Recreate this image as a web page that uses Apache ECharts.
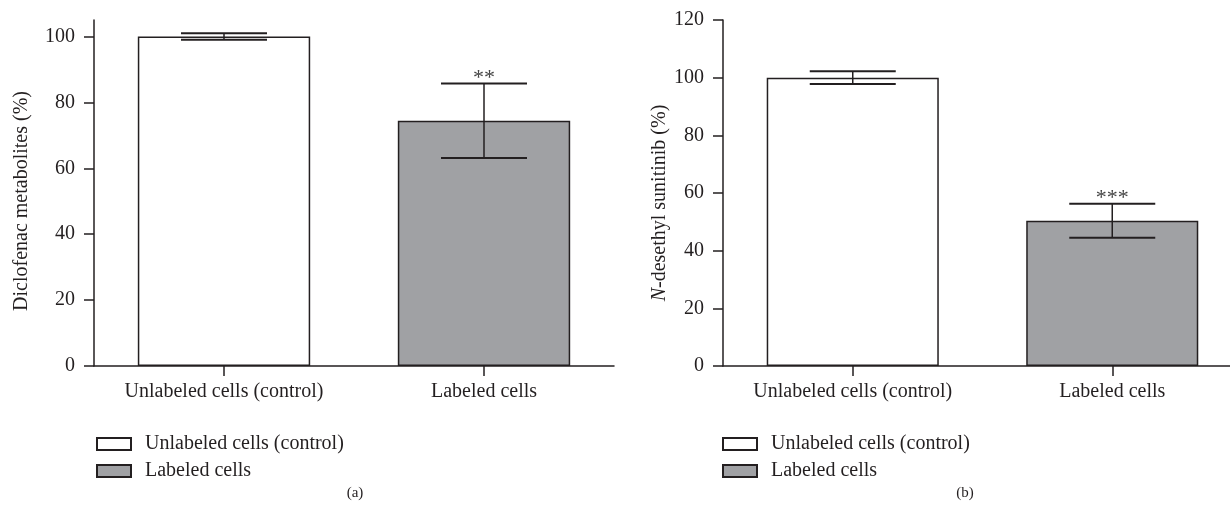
<!DOCTYPE html>
<html><head><meta charset="utf-8">
<script src="https://cdn.jsdelivr.net/npm/echarts@6/dist/echarts.min.js"></script>
<style>html,body{margin:0;padding:0;background:#fff}#c{width:1230px;height:514px}</style>
</head><body><div id="c"></div>
<script>
const categories = ['Unlabeled cells (control)', 'Labeled cells'];
const seriesNames = ['Unlabeled cells (control)', 'Labeled cells'];
const diclofenacMean = [100, 74.4];
const diclofenacErr = [1.0, 11.3];
const diclofenacSig = ['', '**'];
const sunitinibMean = [100, 50.4];
const sunitinibErr = [2.2, 5.9];
const sunitinibSig = ['', '***'];
const yTicksA = [0, 20, 40, 60, 80, 100];
const yTicksB = [0, 20, 40, 60, 80, 100, 120];
const panelLabels = ['(a)', '(b)'];

const INK = '#231f20';
const FONT = 'Liberation Serif';
const FS = 20;
const fills = ['#ffffff', '#a0a1a4'];

function yAxis(idx, max, ticks, name, shift) {
  return {
    type: 'value', gridIndex: idx, min: 0, max: max,
    name: name, nameLocation: 'middle', nameGap: idx === 0 ? 62 : 51, nameRotate: 90,
    nameTextStyle: { color: INK, fontFamily: FONT, fontSize: FS, padding: [0, shift, 0, 0],
      rich: { i: { fontStyle: 'italic', fontFamily: FONT, fontSize: FS, color: INK } } },
    axisLine: { show: true, lineStyle: { color: INK, width: 1.5 } },
    axisTick: { show: true, length: 10, inside: false, customValues: ticks, lineStyle: { color: INK, width: 1.5 } },
    axisLabel: { customValues: ticks, margin: 19, color: INK, fontFamily: FONT, fontSize: FS },
    splitLine: { show: false }
  };
}
function xAxis(idx) {
  return {
    type: 'category', gridIndex: idx, data: categories,
    axisLine: { show: true, lineStyle: { color: INK, width: 1.5 } },
    axisTick: { show: true, alignWithLabel: true, length: 10, lineStyle: { color: INK, width: 1.5 } },
    axisLabel: { margin: 16, color: INK, fontFamily: FONT, fontSize: FS }
  };
}
function barSeries(idx, means) {
  return seriesNames.map((nm, k) => ({
    type: 'bar', name: nm, xAxisIndex: idx, yAxisIndex: idx,
    barWidth: '66.3%', barGap: '-100%',
    itemStyle: { color: fills[k], borderColor: INK, borderWidth: 1.5 },
    data: means.map((v, i) => (i === k ? v : null)),
    z: 2
  }));
}
function errSeries(idx, means, errs, sigs) {
  return {
    type: 'custom', xAxisIndex: idx, yAxisIndex: idx, z: 5,
    data: means.map((m, i) => [i, m, errs[i]]),
    renderItem: function (params, api) {
      const x = api.value(0), m = api.value(1), e = api.value(2);
      const top = api.coord([x, m + e]);
      const bot = api.coord([x, m - e]);
      const hw = 43;
      const children = [
        { type: 'line', shape: { x1: top[0], y1: top[1], x2: bot[0], y2: bot[1] }, style: { stroke: INK, lineWidth: 1.5 } },
        { type: 'line', shape: { x1: top[0] - hw, y1: top[1], x2: top[0] + hw, y2: top[1] }, style: { stroke: INK, lineWidth: 2 } },
        { type: 'line', shape: { x1: bot[0] - hw, y1: bot[1], x2: bot[0] + hw, y2: bot[1] }, style: { stroke: INK, lineWidth: 2 } }
      ];
      const s = sigs[params.dataIndex];
      if (s) {
        children.push({ type: 'text', x: top[0], y: top[1] - 5,
          style: { text: s, fill: '#444', font: '22px ' + FONT, textAlign: 'center', textVerticalAlign: 'middle' } });
      }
      return { type: 'group', children: children };
    }
  };
}
function legend(left) {
  return {
    orient: 'vertical', left: left, top: 429, itemWidth: 34, itemHeight: 12, itemGap: 7,
    icon: 'rect', data: seriesNames, selectedMode: false,
    textStyle: { color: INK, fontFamily: FONT, fontSize: FS, lineHeight: 20, padding: [0, 0, 0, 9] }
  };
}

const chart = echarts.init(document.getElementById('c'), null, { renderer: 'canvas' });
chart.setOption({
  animation: false,
  backgroundColor: '#fff',
  grid: [
    { left: 94, top: 20, bottom: 148, width: 520, containLabel: false, outerBoundsMode: 'none' },
    { left: 723, top: 20, bottom: 148, width: 519, containLabel: false, outerBoundsMode: 'none' }
  ],
  xAxis: [xAxis(0), xAxis(1)],
  yAxis: [
    yAxis(0, 105, yTicksA, 'Diclofenac metabolites (%)', 16),
    yAxis(1, 120, yTicksB, '{i|N}-desethyl sunitinib (%)', 20)
  ],
  legend: [legend(91), legend(717)],
  graphic: [
    { type: 'text', x: 355, y: 493, style: { text: panelLabels[0], fill: INK, font: '15px ' + FONT, textAlign: 'center', textVerticalAlign: 'middle' } },
    { type: 'text', x: 965, y: 493, style: { text: panelLabels[1], fill: INK, font: '15px ' + FONT, textAlign: 'center', textVerticalAlign: 'middle' } }
  ],
  series: [].concat(
    barSeries(0, diclofenacMean),
    [errSeries(0, diclofenacMean, diclofenacErr, diclofenacSig)],
    barSeries(1, sunitinibMean),
    [errSeries(1, sunitinibMean, sunitinibErr, sunitinibSig)]
  )
});
</script></body></html>
